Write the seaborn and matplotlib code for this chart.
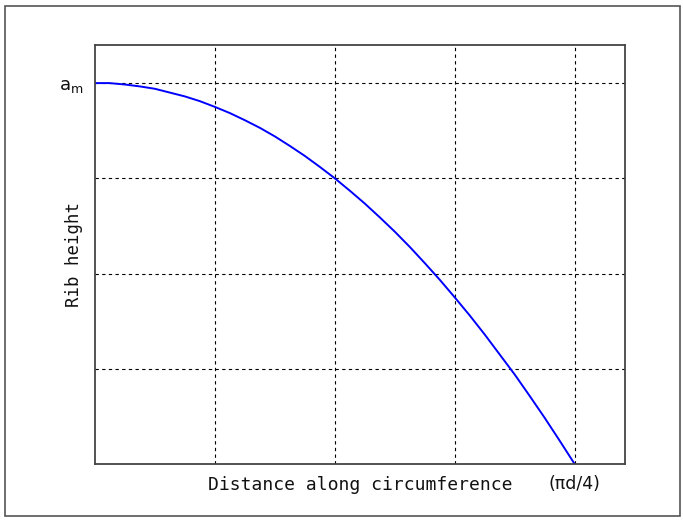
import matplotlib
matplotlib.use('Agg')
import matplotlib.pyplot as plt
import matplotlib.patches as patches
import pandas as pd
import seaborn as sns

# Values
distance = [0, 0.12, 0.25, 0.375, 0.5, 0.625, 0.75, 0.875, 1, 1.125, 1.25, 1.375, 1.5,
            1.625, 1.75, 1.875, 2, 2.125, 2.25, 2.375, 2.5, 2.625, 2.75, 2.875, 3,
            3.125, 3.25, 3.375, 3.5, 3.625, 3.75, 3.875, 4]
height = [4.0, 4.0, 3.985, 3.965, 3.94, 3.9, 3.86, 3.81, 3.75, 3.685, 3.61, 3.53, 3.44,
          3.34, 3.235, 3.12, 3.0, 2.87, 2.735, 2.59, 2.44, 2.28, 2.11, 1.935, 1.75,
          1.56, 1.36, 1.15, 0.94, 0.715, 0.485, 0.245, 0.0]
x_ticks = [1, 2, 3, 4]
x_ticklabels = ['', '', '', '(\u03c0d/4)']
y_ticks = [1, 2, 3, 4]
y_ticklabels = ['', '', '', r'$\mathregular{a_m}$']

rib = pd.DataFrame({'distance': distance, 'height': height})

sns.set_theme(style='white')
fig = plt.figure(figsize=(6.83, 5.20), dpi=100)
ax = fig.add_axes([95 / 683, 1 - 464 / 520, 530 / 683, 419 / 520])

# Outer frame around the figure
fig.patches.append(patches.Rectangle((5 / 683, 4 / 520), 675 / 683, 510 / 520,
                                     transform=fig.transFigure, fill=False,
                                     edgecolor='#555555', linewidth=1.2))

sns.lineplot(data=rib, x='distance', y='height', color='#0000ff', linewidth=1.4, ax=ax)

ax.set_xlim(0, 4.42)
ax.set_ylim(0, 4.4)
ax.set_xticks(x_ticks)
ax.set_xticklabels(x_ticklabels, family='DejaVu Sans', fontsize=12.5)
ax.set_yticks(y_ticks)
ax.set_yticklabels(y_ticklabels, fontsize=13)
ax.tick_params(length=0, pad=8, labelcolor='#111111')
ax.grid(True, color='black', linestyle=(0, (3, 3)), linewidth=0.8)

for spine in ax.spines.values():
    spine.set_color('#444444')
    spine.set_linewidth(1.3)

ax.set_xlabel('Distance along circumference', family='DejaVu Sans Mono', fontsize=13, color='#111111')
ax.set_ylabel('Rib height', family='DejaVu Sans Mono', fontsize=12.5, color='#111111')
ax.xaxis.set_label_coords(0.5, -21 / 419, transform=ax.transAxes)
ax.yaxis.set_label_coords(-21 / 530, 0.5, transform=ax.transAxes)
ax.xaxis.label.set_va('center')
ax.yaxis.label.set_va('center')

fig.savefig('out.png', dpi=100)
